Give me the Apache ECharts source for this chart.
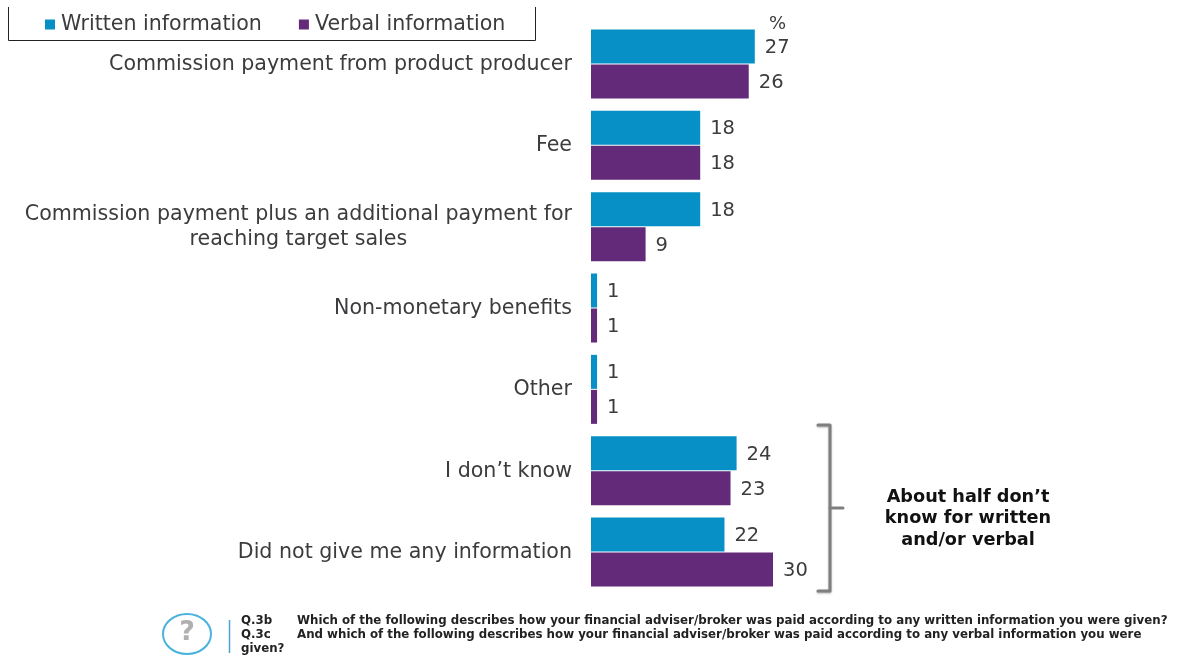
<!DOCTYPE html>
<html>
<head>
<meta charset="utf-8">
<style>html,body{margin:0;padding:0;background:#fff}#chart{width:1179px;height:659px}</style>
<script src="https://cdn.jsdelivr.net/npm/echarts@6/dist/echarts.min.js"></script>
</head>
<body>
<div id="chart"></div>
<script>
const categories = [
  'Commission payment from product producer',
  'Fee',
  'Commission payment plus an additional payment for\nreaching target sales',
  'Non-monetary benefits',
  'Other',
  'I don’t know',
  'Did not give me any information'
];
const writtenValues = [27, 18, 18, 1, 1, 24, 22];
const verbalValues = [26, 18, 9, 1, 1, 23, 30];
const seriesNames = ['Written information', 'Verbal information'];
const seriesColors = ['#0690c6', '#622a78'];
const noteLines = ['About half don’t', 'know for written', 'and/or verbal'];
const questionCodes = ['Q.3b', 'Q.3c'];
const questionTexts = [
  'Which of the following describes how your financial adviser/broker was paid according to any written information you were given?',
  'And which of the following describes how your financial adviser/broker was paid according to any verbal information you were'
];
const questionTail = 'given?';

const FONT = '"DejaVu Sans", Verdana, sans-serif';
const INK = '#3c3c3e';

const chart = echarts.init(document.getElementById('chart'), null, { renderer: 'canvas' });

function barSeries(name, values, color) {
  return {
    name,
    type: 'bar',
    data: values,
    barWidth: 34,
    barGap: '3%',
    itemStyle: { color },
    label: {
      show: true,
      position: 'right',
      distance: 10,
      offset: [0, 1.5],
      color: INK,
      fontFamily: FONT,
      fontSize: 19.5
    }
  };
}

function plainText(x, y, text, style) {
  return {
    type: 'text',
    x, y,
    silent: true,
    style: Object.assign({ text, fontFamily: FONT, fill: '#222', textVerticalAlign: 'middle' }, style)
  };
}

const graphics = [
  // Open-topped frame round the legend
  { type: 'polyline', silent: true, shape: { points: [[8.5, 7], [8.5, 40.5], [535.5, 40.5], [535.5, 7]] },
    style: { stroke: '#222', lineWidth: 1, fill: 'none' } },
  plainText(769, 24.5, '%', { fontSize: 18, fill: INK }),
  // Bracket grouping the two "no information" answers
  { type: 'polyline', silent: true,
    shape: { points: [[818, 425], [830, 425], [830, 591], [818, 591]] },
    style: { stroke: '#7f7f7f', lineWidth: 3, fill: 'none', lineJoin: 'round', lineCap: 'round',
      shadowBlur: 2, shadowColor: 'rgba(0,0,0,0.3)', shadowOffsetY: 1 } },
  { type: 'line', silent: true, shape: { x1: 830, y1: 508, x2: 843, y2: 508 },
    style: { stroke: '#7f7f7f', lineWidth: 3, lineCap: 'round' } },
  // Question marker and divider in the footer
  { type: 'ellipse', silent: true, shape: { cx: 187, cy: 634, rx: 24, ry: 20 },
    style: { stroke: '#4cb4dc', lineWidth: 2, fill: '#fff' } },
  plainText(187, 633, '?', { fontSize: 27, fontWeight: 'bold', fill: '#b0b0b0', textAlign: 'center' }),
  { type: 'line', silent: true, shape: { x1: 229.5, y1: 620, x2: 229.5, y2: 653 },
    style: { stroke: '#4ba6cf', lineWidth: 1.5 } }
];

noteLines.forEach((line, i) => {
  graphics.push(plainText(968, 497 + i * 21.5, line, { fontSize: 17.7, fontWeight: 'bold', fill: '#111', textAlign: 'center' }));
});
questionCodes.forEach((code, i) => {
  graphics.push(plainText(241, 621 + i * 14, code, { fontSize: 11.8, fontWeight: 'bold' }));
  graphics.push(plainText(297, 621 + i * 14, questionTexts[i], { fontSize: 11.8, fontWeight: 'bold' }));
});
graphics.push(plainText(241, 649, questionTail, { fontSize: 11.8, fontWeight: 'bold' }));

chart.setOption({
  animation: false,
  backgroundColor: '#fff',
  legend: {
    left: 40,
    top: 9,
    itemWidth: 10,
    itemHeight: 10,
    itemGap: 37,
    icon: 'rect',
    data: seriesNames,
    textStyle: { color: INK, fontFamily: FONT, fontSize: 20.6, padding: [0, 0, 0, 1] }
  },
  grid: { left: 591, top: 23.3, width: 546, height: 569.4, containLabel: false },
  xAxis: { type: 'value', min: 0, max: 90, show: false },
  yAxis: {
    type: 'category',
    inverse: true,
    data: categories,
    axisLine: { show: false },
    axisTick: { show: false },
    splitLine: { show: false },
    axisLabel: {
      margin: 19,
      interval: 0,
      padding: [1.5, 0, 0, 0],
      color: INK,
      fontFamily: FONT,
      fontSize: 20.6,
      lineHeight: 25,
      formatter: value => value.split('\n').map(line => '{c|' + line + '}').join('\n'),
      rich: { c: { align: 'center', color: INK, fontFamily: FONT, fontSize: 20.6, lineHeight: 25 } }
    }
  },
  series: [
    barSeries(seriesNames[0], writtenValues, seriesColors[0]),
    barSeries(seriesNames[1], verbalValues, seriesColors[1])
  ],
  graphic: graphics
});
</script>
</body>
</html>
